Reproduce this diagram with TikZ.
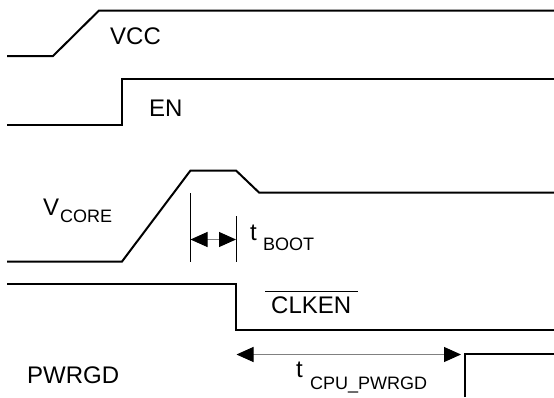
\documentclass[tikz,border=0pt]{standalone}
\usepackage{fontspec}
\setmainfont{Liberation Sans}
\usetikzlibrary{arrows.meta}
\begin{document}
\begin{tikzpicture}[x=1pt,y=-1pt,
  sig/.style={line width=2pt,line join=miter,line cap=butt},
  tick/.style={line width=0.9pt},
  dim/.style={line width=1pt,draw=gray,{Triangle[length=17pt,width=15pt,fill=black,color=black]}-{Triangle[length=17pt,width=15pt,fill=black,color=black]}},
  lbl/.style={inner sep=0pt,anchor=base west,font=\fontsize{24}{28}\selectfont},
  sub/.style={inner sep=0pt,anchor=base west,font=\fontsize{18}{22}\selectfont}]
\useasboundingbox (0,0) rectangle (554,397);
% signals
\draw[sig] (7,56) -- (53,56) -- (99,10.5) -- (554,10.5);
\draw[sig] (7,125) -- (122,125) -- (122,79) -- (554,79);
\draw[sig] (7,261.5) -- (122,261.5) -- (190.5,170.5) -- (236,170.5) -- (259,192.5) -- (554,192.5);
\draw[sig] (7,284) -- (235.5,284) -- (235.5,330) -- (554,330);
\draw[sig] (465,397) -- (465,354) -- (554,354);
% tBOOT
\coordinate (b1t) at (190.5,193);
\coordinate (b1b) at (190.5,261.5);
\coordinate (b2t) at (236,216);
\coordinate (b2b) at (236,261.5);
\draw[tick] (b1t) -- (b1b);
\draw[tick] (b2t) -- (b2b);
\coordinate (ba) at (190.5,239.5);
\coordinate (bb) at (236,239.5);
\draw[dim] (ba) -- (bb);
% tCPU_PWRGD
\coordinate (ca) at (236.5,354.5);
\coordinate (cb) at (461,354.5);
\draw[dim] (ca) -- (cb);
% labels
\node[lbl] (vcc) at (110,44) {VCC};
\node[lbl] (en) at (149,116) {EN};
\node[lbl] (vc) at (43,215) {V};
\node[sub] (vcs) at (60,222) {CORE};
\node[lbl] (tb) at (250,240.5) {t};
\node[sub] (tbs) at (263,250) {BOOT};
\node[lbl] (clk) at (271,313) {CLKEN};
\coordinate (ob1) at (265,291);
\coordinate (ob2) at (358,291);
\draw[line width=1pt] (ob1) -- (ob2);
\node[lbl] (pg) at (27,383.5) {PWRGD};
\node[lbl] (tc) at (296,377) {t};
\node[sub] (tcs) at (310,389) {CPU\_PWRGD};
\end{tikzpicture}
\end{document}
